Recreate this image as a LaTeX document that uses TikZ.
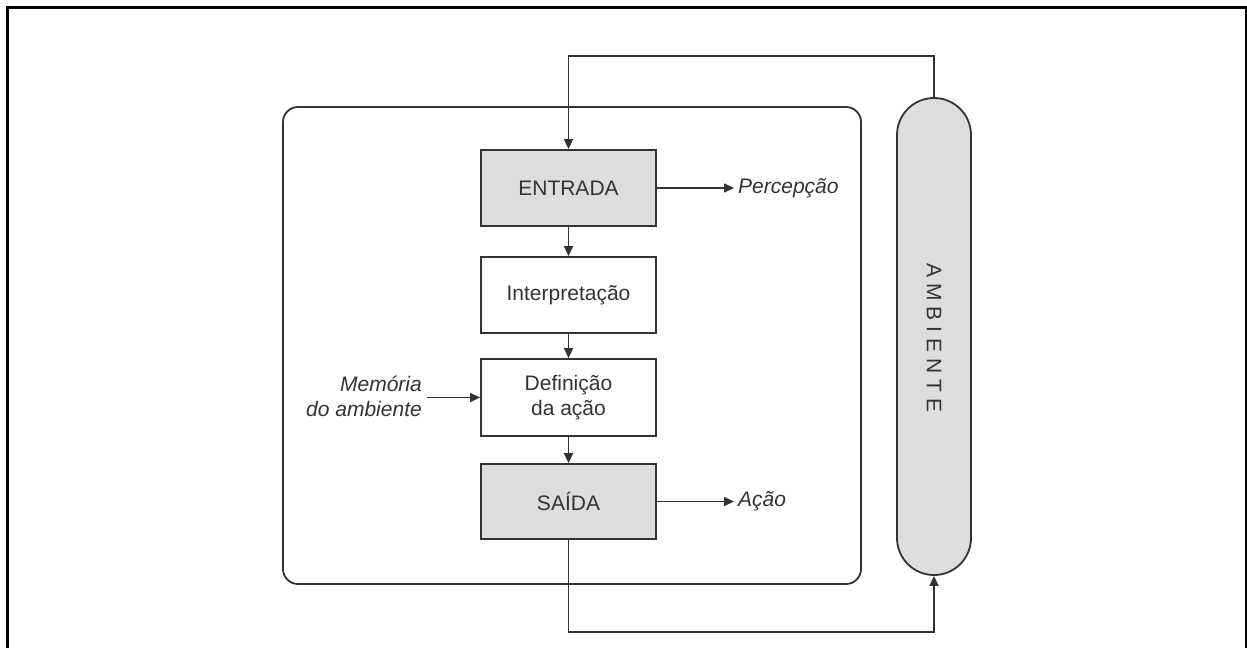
\documentclass[tikz,border=0pt]{standalone}
\usepackage{fontspec}
\setmainfont{Liberation Sans}
\usetikzlibrary{arrows.meta}
\definecolor{boxgray}{HTML}{DDDDDD}
\definecolor{linec}{HTML}{333333}
\definecolor{textc}{HTML}{333333}
\begin{document}
\begin{tikzpicture}[x=1pt,y=-1pt,
  every node/.style={font=\fontsize{21}{25}\selectfont, text=textc},
  procbox/.style={draw=linec, line width=1.8pt, minimum width=175pt, minimum height=76pt, inner sep=0pt, align=center},
  graybox/.style={procbox, fill=boxgray},
  whitebox/.style={procbox, fill=white},
  conn/.style={draw=linec, line width=1.6pt, -{Triangle[length=10pt,width=9pt]}},
  lbl/.style={font=\fontsize{21}{25}\selectfont\itshape, inner sep=0pt}
]
\useasboundingbox (0,0) rectangle (1247,648);
% outer frame
\draw[line width=3pt, black] (7,648) -- (7,7) -- (1246,7) -- (1246,648);
% agent box
\draw[draw=linec, line width=1.8pt, rounded corners=15pt] (283,107) rectangle (861,584);
% ambiente capsule
\node[draw=linec, line width=1.8pt, fill=boxgray, rounded corners=37pt, minimum width=74pt, minimum height=477pt, inner sep=0pt] (amb) at (934,336.5) {};
\node[rotate=-90, inner sep=0pt] (ambtxt) at (934,338) {A\hspace{6pt}M\hspace{6pt}B\hspace{6pt}I\hspace{6pt}E\hspace{6pt}N\hspace{6pt}T\hspace{6pt}E};
% process boxes
\node[graybox] (entrada) at (568.5,188) {ENTRADA};
\node[whitebox] (interp) at (568.5,295) {Interpreta\c{c}\~ao};
\node[whitebox, minimum height=77pt] (def) at (568.5,397.5) {Defini\c{c}\~ao\\da a\c{c}\~ao};
\node[graybox, minimum height=75pt] (saida) at (568.5,501.5) {SA\'IDA};
% labels
\node[lbl, anchor=west] (perc) at (738,188) {Percep\c{c}\~ao};
\node[lbl, anchor=west] (acao) at (738,501.5) {A\c{c}\~ao};
\node[lbl, anchor=east, align=right] (mem) at (422,396) {Mem\'oria\\do ambiente};
% connectors
\draw[conn] (entrada) -- (interp);
\draw[conn] (interp) -- (def);
\draw[conn] (def) -- (saida);
\draw[conn] (entrada.east) -- ([xshift=-4pt]perc.west);
\draw[conn] (saida.east) -- ([xshift=-4pt]acao.west);
\draw[conn] ([xshift=5pt]mem.east |- def.west) -- (def.west);
\coordinate (topL) at (568.5,56);
\coordinate (topR) at (934,56);
\coordinate (botL) at (568.5,632);
\coordinate (botR) at (934,632);
\draw[conn] (amb.north) -- (topR) -- (topL) -- (entrada.north);
\draw[conn] (saida.south) -- (botL) -- (botR) -- (amb.south);
\end{tikzpicture}
\end{document}
